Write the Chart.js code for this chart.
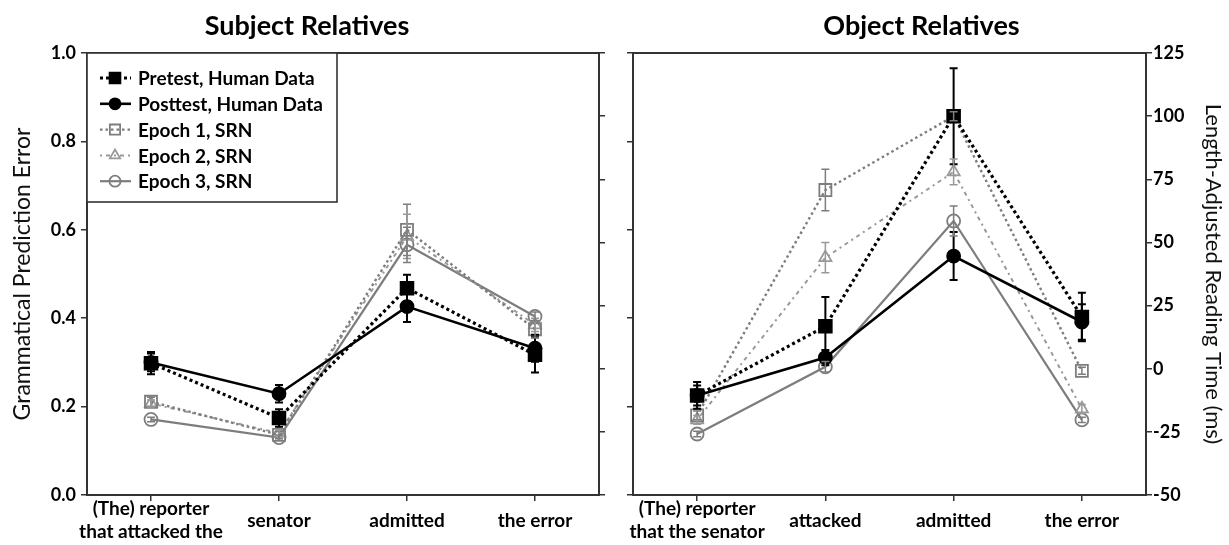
<!DOCTYPE html>
<html>
<head>
<meta charset="utf-8">
<script src="https://cdn.jsdelivr.net/npm/chart.js@4.4.1/dist/chart.umd.min.js"></script>
<style>
  body { margin: 0; background: #fff; }
  #wrap { position: relative; width: 1229px; height: 545px; }
  #c1 { position: absolute; left: 0; top: 0; }
  #c2 { position: absolute; left: 614px; top: 0; }
</style>
</head>
<body>
<div id="wrap">
  <canvas id="c1" width="614" height="545"></canvas>
  <canvas id="c2" width="615" height="545"></canvas>
</div>
<script>
// categories
const subjCats = [['(The) reporter', 'that attacked the'], 'senator', 'admitted', 'the error'];
const objCats = [['(The) reporter', 'that the senator'], 'attacked', 'admitted', 'the error'];

// tick labels
const errorTicks = [0, 0.2, 0.4, 0.6, 0.8, 1.0];
const timeTicks = [-50, -25, 0, 25, 50, 75, 100, 125];

// Subject relatives - human data in ms (right axis), SRN as prediction error (left axis)
const subjPretest = [2.2, -19.5, 31.9, 5.5];
const subjPretestErr = [4.4, 3.5, 5.3, 7.0];
const subjPosttest = [2.5, -9.9, 24.6, 8.1];
const subjPosttestErr = [3.5, 3.5, 6.1, 5.3];
const subjEpoch1 = [0.211, 0.136, 0.600, 0.375];
const subjEpoch1Err = [0.010, 0.008, 0.058, 0.020];
const subjEpoch2 = [0.207, 0.140, 0.585, 0.385];
const subjEpoch2Err = [0.008, 0.008, 0.050, 0.015];
const subjEpoch3 = [0.171, 0.130, 0.566, 0.404];
const subjEpoch3Err = [0.005, 0.006, 0.040, 0.010];

// Object relatives
const objPretest = [-10.6, 16.8, 100, 20.5];
const objPretestErr = [5.3, 11.6, 19.0, 9.6];
const objPosttest = [-10.6, 4.4, 44.6, 18.5];
const objPosttestErr = [4.0, 3.0, 9.5, 7.0];
const objEpoch1 = [0.180, 0.690, 0.857, 0.281];
const objEpoch1Err = [0.010, 0.047, 0.010, 0.008];
const objEpoch2 = [0.170, 0.537, 0.731, 0.195];
const objEpoch2Err = [0.010, 0.034, 0.029, 0.010];
const objEpoch3 = [0.138, 0.290, 0.620, 0.170];
const objEpoch3Err = [0.006, 0.012, 0.034, 0.006];

const seriesLabels = ['Pretest, Human Data', 'Posttest, Human Data', 'Epoch 1, SRN', 'Epoch 2, SRN', 'Epoch 3, SRN'];

// look of each series
const looks = [
  { color: '#000', dash: [3, 3], width: 3.2, point: 'rect', r: 9, fill: '#000', axis: 'y2' },
  { color: '#000', dash: [], width: 2.6, point: 'circle', r: 6.5, fill: '#000', axis: 'y2' },
  { color: '#7d7d7d', dash: [2.5, 3], width: 2.4, point: 'rect', r: 8.5, fill: 'rgba(0,0,0,0)', axis: 'y' },
  { color: '#999', dash: [2, 4, 4, 4], width: 2, point: 'triangle', r: 7, fill: 'rgba(0,0,0,0)', axis: 'y' },
  { color: '#7d7d7d', dash: [], width: 2.2, point: 'circle', r: 6.5, fill: 'rgba(0,0,0,0)', axis: 'y' }
];

const FONT = 'Lato, "Open Sans", sans-serif';

function buildDatasets(values, errors) {
  return values.map((vals, i) => ({
    label: seriesLabels[i],
    data: vals,
    errors: errors[i],
    yAxisID: looks[i].axis,
    borderColor: looks[i].color,
    borderWidth: looks[i].width,
    borderDash: looks[i].dash,
    borderCapStyle: 'butt',
    pointStyle: looks[i].point,
    pointRadius: looks[i].r,
    pointBackgroundColor: looks[i].fill,
    pointBorderColor: looks[i].color,
    pointBorderWidth: 1.8,
    tension: 0,
    fill: false
  }));
}

// draws the box round the plot area
const frame = {
  id: 'frame',
  beforeDatasetsDraw(chart) {
    const { ctx, chartArea: a } = chart;
    ctx.save();
    ctx.strokeStyle = '#333';
    ctx.lineWidth = 2;
    ctx.strokeRect(a.left, a.top, a.right - a.left, a.bottom - a.top);
    ctx.restore();
  }
};

// error bars read from dataset.errors
const errorBars = {
  id: 'errorBars',
  afterDatasetsDraw(chart) {
    const ctx = chart.ctx;
    chart.data.datasets.forEach((ds, di) => {
      const meta = chart.getDatasetMeta(di);
      const ys = chart.scales[ds.yAxisID];
      ctx.save();
      ctx.strokeStyle = ds.borderColor;
      ctx.lineWidth = di < 2 ? 2 : 1.5;
      ds.data.forEach((v, i) => {
        const e = ds.errors[i];
        const x = meta.data[i].x;
        const top = ys.getPixelForValue(v + e);
        const bot = ys.getPixelForValue(v - e);
        ctx.beginPath();
        ctx.moveTo(x, top); ctx.lineTo(x, bot);
        ctx.moveTo(x - 4, top); ctx.lineTo(x + 4, top);
        ctx.moveTo(x - 4, bot); ctx.lineTo(x + 4, bot);
        ctx.stroke();
      });
      ctx.restore();
    });
  }
};

// legend box in the top left corner of the plot
const legendBox = {
  id: 'legendBox',
  afterDraw(chart, args, opts) {
    if (!opts.show) return;
    const { ctx, chartArea } = chart;
    const x0 = chartArea.left, y0 = chartArea.top;
    ctx.save();
    ctx.fillStyle = '#fff';
    ctx.fillRect(x0, y0, 250, 149);
    ctx.strokeStyle = '#333';
    ctx.lineWidth = 1.6;
    ctx.strokeRect(x0, y0, 250, 149);
    chart.data.datasets.forEach((ds, i) => {
      const cy = y0 + 25 + i * 25.8;
      const cx = x0 + 28;
      ctx.strokeStyle = ds.borderColor;
      ctx.lineWidth = ds.borderWidth;
      ctx.setLineDash(ds.borderDash);
      ctx.beginPath();
      ctx.moveTo(x0 + 13, cy); ctx.lineTo(x0 + 44, cy);
      ctx.stroke();
      ctx.setLineDash([]);
      ctx.fillStyle = ds.pointBackgroundColor;
      ctx.strokeStyle = ds.pointBorderColor;
      ctx.lineWidth = ds.pointBorderWidth;
      Chart.helpers.drawPoint(ctx, { pointStyle: ds.pointStyle, radius: ds.pointRadius * 0.85, rotation: 0, borderWidth: ds.pointBorderWidth }, cx, cy);
      ctx.fillStyle = '#000';
      ctx.font = 'bold 19px ' + FONT;
      ctx.textBaseline = 'middle';
      ctx.fillText(ds.label, x0 + 51, cy + 1);
    });
    ctx.restore();
  }
};

function makeChart(id, title, cats, datasets, side) {
  const isLeft = side === 'left';
  const tickFont = { family: FONT, size: 18, weight: 'bold' };
  const gridOpts = { drawOnChartArea: false, drawTicks: true, tickLength: 6, color: '#333', lineWidth: 1.5 };
  return new Chart(document.getElementById(id), {
    type: 'line',
    data: { labels: cats, datasets: datasets },
    options: {
      responsive: false,
      animation: false,
      layout: { padding: 0 },
      plugins: {
        legend: { display: false },
        tooltip: { enabled: false },
        title: {
          display: true, text: title, color: '#000',
          font: { family: FONT, size: 27, weight: 'bold' },
          padding: { top: 10, bottom: 10.6 }
        },
        legendBox: { show: isLeft }
      },
      scales: {
        x: {
          type: 'category',
          offset: true,
          grid: gridOpts,
          border: { display: false },
          ticks: { color: '#000', font: { family: FONT, size: 19, weight: 'bold' }, padding: 8, maxRotation: 0, autoSkip: false, crossAlign: 'center' },
          afterFit: s => { s.height = 50; }
        },
        y: {
          position: 'left',
          min: 0, max: 1,
          afterBuildTicks: s => { s.ticks = errorTicks.map(v => ({ value: v })); },
          grid: gridOpts,
          border: { display: false },
          ticks: { display: isLeft, color: '#000', font: tickFont, padding: 5, callback: v => v.toFixed(1) },
          title: {
            display: isLeft, text: 'Grammatical Prediction Error', color: '#111',
            font: { family: FONT, size: 23, weight: 'normal' }, padding: { top: 9, bottom: 0 }
          },
          afterFit: s => { s.width = isLeft ? 87 : 19; }
        },
        y2: {
          position: 'right',
          min: -50, max: 125,
          afterBuildTicks: s => { s.ticks = timeTicks.map(v => ({ value: v })); },
          grid: gridOpts,
          border: { display: false },
          ticks: { display: !isLeft, color: '#000', font: tickFont, padding: 1, callback: v => String(v) },
          title: {
            display: !isLeft, text: 'Length-Adjusted Reading Time (ms)', color: '#111',
            font: { family: FONT, size: 22, weight: 'normal' }, padding: { top: 3, bottom: 0 }
          },
          afterFit: s => { s.width = isLeft ? 15 : 83; }
        }
      }
    },
    plugins: [frame, errorBars, legendBox]
  });
}

makeChart('c1', 'Subject Relatives', subjCats,
  buildDatasets([subjPretest, subjPosttest, subjEpoch1, subjEpoch2, subjEpoch3],
                [subjPretestErr, subjPosttestErr, subjEpoch1Err, subjEpoch2Err, subjEpoch3Err]), 'left');

makeChart('c2', 'Object Relatives', objCats,
  buildDatasets([objPretest, objPosttest, objEpoch1, objEpoch2, objEpoch3],
                [objPretestErr, objPosttestErr, objEpoch1Err, objEpoch2Err, objEpoch3Err]), 'right');
</script>
</body>
</html>
